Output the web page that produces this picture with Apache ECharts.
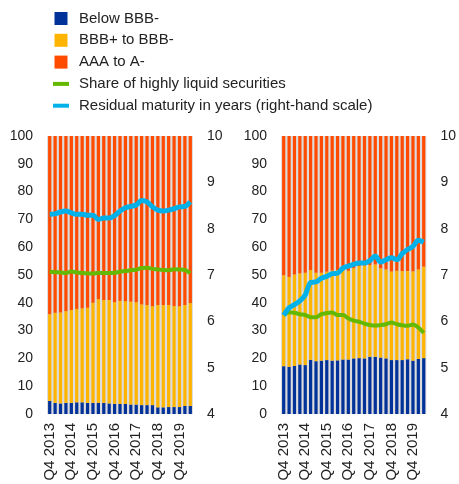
<!DOCTYPE html>
<html><head><meta charset="utf-8">
<script src="https://cdn.jsdelivr.net/npm/echarts@6/dist/echarts.min.js"></script>
<style>html,body{margin:0;padding:0;background:#fff}#c{width:459px;height:484px}</style>
</head><body><div id="c"></div>
<script>
const categories = ['Q4 2013','Q1 2014','Q2 2014','Q3 2014','Q4 2014','Q1 2015','Q2 2015','Q3 2015','Q4 2015','Q1 2016','Q2 2016','Q3 2016','Q4 2016','Q1 2017','Q2 2017','Q3 2017','Q4 2017','Q1 2018','Q2 2018','Q3 2018','Q4 2018','Q1 2019','Q2 2019','Q3 2019','Q4 2019','Q1 2020','Q2 2020'];
const leftTicks = [0,10,20,30,40,50,60,70,80,90,100];
const rightTicks = [4,5,6,7,8,9,10];

// Left panel
const belowL = [4.7,4.0,3.8,4.0,4.0,4.2,4.2,4.0,4.0,4.0,4.0,3.8,3.7,3.6,3.6,3.4,3.4,3.2,3.2,3.2,2.4,2.4,2.5,2.5,2.5,2.9,2.9];
const bbbL = [31.2,32.4,32.7,33.0,33.4,33.6,33.8,34.2,36.0,37.3,37.0,37.2,36.5,37.1,37.0,37.0,36.8,36.2,36.0,35.6,36.8,36.8,36.7,36.3,36.3,36.3,37.0];
const aaaL = [64.1,63.6,63.5,63.0,62.6,62.2,62.0,61.8,60.0,58.7,59.0,59.0,59.8,59.3,59.4,59.6,59.8,60.6,60.8,61.2,60.8,60.8,60.8,61.2,61.2,60.8,60.1];
const liquidL = [51.2,51.0,50.9,50.7,51.3,50.9,50.7,50.6,50.5,50.8,50.7,50.7,50.8,51.2,51.4,51.7,51.9,52.5,52.6,52.2,52.0,51.8,51.7,52.1,52.0,51.8,50.7];
const maturityL = [8.31,8.32,8.36,8.38,8.34,8.31,8.31,8.29,8.29,8.20,8.23,8.23,8.28,8.38,8.45,8.48,8.51,8.61,8.58,8.47,8.40,8.38,8.40,8.43,8.47,8.48,8.58];

// Right panel
const belowR = [17.2,17.0,17.3,17.8,17.6,19.5,19.0,19.2,19.4,19.2,19.3,19.6,19.6,20.0,20.1,20.0,20.6,20.6,20.3,20.0,19.4,19.4,19.4,19.7,19.2,19.8,20.1];
const bbbR = [32.7,32.3,32.9,32.8,33.2,32.3,31.8,31.6,31.8,32.4,32.5,32.4,31.9,32.4,33.1,33.4,33.0,33.2,32.1,32.0,31.9,32.1,32.0,31.7,32.1,32.2,32.9];
const aaaR = [50.1,50.7,49.8,49.4,49.2,48.2,49.2,49.2,48.8,48.4,48.2,48.0,48.5,47.6,46.8,46.6,46.4,46.2,47.6,48.0,48.7,48.5,48.6,48.6,48.7,48.0,47.0];
const liquidR = [35.6,36.6,36.4,35.9,35.6,34.8,34.8,35.9,36.3,36.5,35.6,35.6,34.4,33.6,33.2,32.5,32.0,31.8,32.0,32.3,32.9,32.3,31.9,31.7,32.2,31.1,29.2];
const maturityR = [6.13,6.29,6.36,6.44,6.57,6.84,6.85,6.93,6.97,7.03,7.04,7.15,7.19,7.23,7.26,7.26,7.31,7.41,7.28,7.33,7.37,7.33,7.46,7.55,7.62,7.75,7.71];

const names = ['Below BBB-','BBB+ to BBB-','AAA to A-','Share of highly liquid securities','Residual maturity in years (right-hand scale)'];
const colors = ['#003299','#ffb400','#ff4b00','#65b800','#00b1ea'];
const FONT = 'Arial, "Liberation Sans", sans-serif';
const sq = 'path://M0,0L13,0L13,13L0,13Z';
const ln = 'path://M0,0L16,0L16,4L0,4Z';

const chart = echarts.init(document.getElementById('c'), null, {renderer:'canvas'});
const grids = [{left:47, top:136, width:146, height:278}, {left:281, top:136, width:146, height:278}];

function xAxis(gi){
  return {type:'category', gridIndex:gi, data:categories,
    axisLine:{show:false}, axisTick:{show:false},
    axisLabel:{rotate:90, interval:3, fontSize:15, color:'#222', fontFamily:FONT, margin:9}};
}
function yAxis(gi, right){
  return right ? {type:'value', gridIndex:gi, position:'right', min:4, max:10, interval:1,
      splitLine:{show:false}, axisLine:{show:false}, axisTick:{show:false},
      axisLabel:{fontSize:14, color:'#222', fontFamily:FONT, margin:14}}
    : {type:'value', gridIndex:gi, position:'left', min:0, max:100, interval:10,
      splitLine:{show:false}, axisLine:{show:false}, axisTick:{show:false},
      axisLabel:{fontSize:14, color:'#222', fontFamily:FONT, margin:14}};
}
function panel(gi, below, bbb, aaa, liquid, maturity){
  const yl = gi*2, yr = gi*2+1;
  const bar = (name, data, c) => ({type:'bar', name, data, stack:'s'+gi, xAxisIndex:gi, yAxisIndex:yl,
    barCategoryGap:'40%', itemStyle:{color:c}, animation:false});
  return [
    bar(names[0], below, colors[0]),
    bar(names[1], bbb, colors[1]),
    bar(names[2], aaa, colors[2]),
    {type:'line', name:names[3], data:liquid, xAxisIndex:gi, yAxisIndex:yl, smooth:0.3, showSymbol:false,
      lineStyle:{color:colors[3], width:4}, itemStyle:{color:colors[3]}, z:5, animation:false},
    {type:'line', name:names[4], data:maturity, xAxisIndex:gi, yAxisIndex:yr, smooth:0.3, showSymbol:false,
      lineStyle:{color:colors[4], width:5}, itemStyle:{color:colors[4]}, z:6, animation:false}
  ];
}

chart.setOption({
  animation:false,
  legend:{orient:'vertical', left:48, top:6, itemWidth:16, itemHeight:13, itemGap:6.8,
    selectedMode:false,
    textStyle:{fontSize:15, color:'#222', fontFamily:FONT, padding:[0,0,0,5]},
    data:[
      {name:names[0], icon:sq, itemStyle:{color:colors[0]}},
      {name:names[1], icon:sq, itemStyle:{color:colors[1]}},
      {name:names[2], icon:sq, itemStyle:{color:colors[2]}},
      {name:names[3], icon:ln, itemStyle:{color:colors[3]}},
      {name:names[4], icon:ln, itemStyle:{color:colors[4]}}
    ]},
  grid: grids.map(g => Object.assign({show:true, backgroundColor:'#dcdcdc', borderWidth:0}, g)),
  xAxis:[xAxis(0), xAxis(1)],
  yAxis:[yAxis(0,false), yAxis(0,true), yAxis(1,false), yAxis(1,true)],
  series:[].concat(panel(0, belowL, bbbL, aaaL, liquidL, maturityL), panel(1, belowR, bbbR, aaaR, liquidR, maturityR))
});
</script></body></html>
